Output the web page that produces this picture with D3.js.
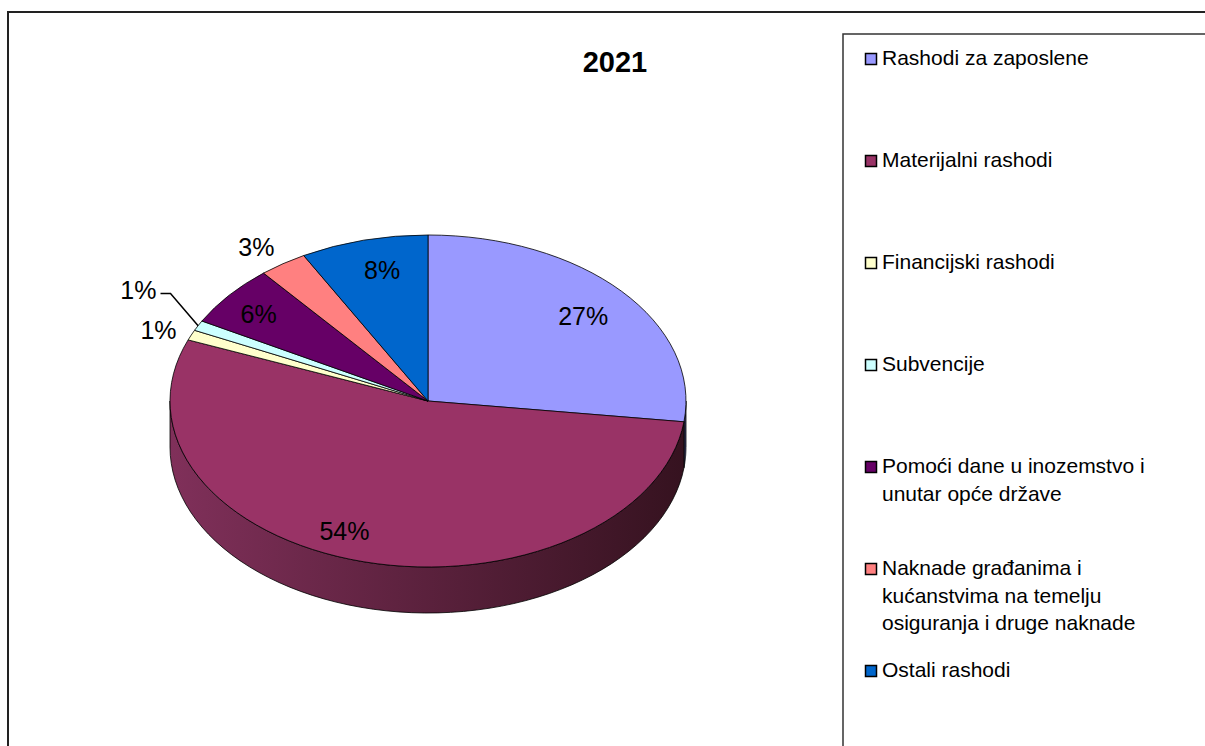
<!DOCTYPE html>
<html>
<head>
<meta charset="utf-8">
<script src="https://cdn.jsdelivr.net/npm/d3@7"></script>
<style>
  body { margin: 0; background: #fff; }
  text { font-family: "Liberation Sans", Arial, sans-serif; }
</style>
</head>
<body>
<svg width="1205" height="746"></svg>
<script>
const title = '2021'
const categories = [
  'Rashodi za zaposlene',
  'Materijalni rashodi',
  'Financijski rashodi',
  'Subvencije',
  'Pomoći dane u inozemstvo i unutar opće države',
  'Naknade građanima i kućanstvima na temelju osiguranja i druge naknade',
  'Ostali rashodi'
]
const values = [27, 54, 1, 1, 6, 3, 8]
const colors = ['#9999ff', '#993366', '#ffffcc', '#ccffff', '#660066', '#ff8080', '#0066cc']
const sideColors = [['#5a5a96', '#3c3c66'], ['#80305a', '#35121f'], ['#99997a', '#66664f'],
  ['#7a9999', '#4f6666'], ['#3d003d', '#290029'], ['#994d4d', '#663333'], ['#003d7a', '#002952']]
// label placement: radius factor, angle shift (deg), leader line
const labelPos = [
  { f: 0.79, da: 1 }, { f: 0.85, da: 8 }, { f: 1.13, da: -1 },
  { f: 1.19, da: 6, leader: true }, { f: 0.84, da: -1 }, { f: 1.14, da: -1.5 }, { f: 0.81, da: 1.7 }
]

const svg = d3.select('svg')
const cx = 428, cy = 401, rx = 258, ry = 166, depth = 46

// frames
svg.append('rect').attr('x', 8).attr('y', 12).attr('width', 1300).attr('height', 900)
  .attr('fill', 'none').attr('stroke', '#222').attr('stroke-width', 2)
svg.append('rect').attr('x', 843).attr('y', 34).attr('width', 500).attr('height', 900)
  .attr('fill', 'none').attr('stroke', '#333').attr('stroke-width', 1.5)

svg.append('text').attr('x', 615).attr('y', 72).attr('text-anchor', 'middle')
  .attr('font-size', 29).attr('font-weight', 'bold').text(title)

const pie = d3.pie().sort(null).value(d => d)
const arcs = pie(values)
const total = d3.sum(values)
const pct = d3.format('.0%')

const pt = (a, f = 1, dy = 0) => [cx + rx * f * Math.sin(a), cy - ry * f * Math.cos(a) + dy]

// side gradients
const defs = svg.append('defs')
sideColors.forEach((c, i) => {
  const g = defs.append('linearGradient').attr('id', 'side' + i)
    .attr('gradientUnits', 'userSpaceOnUse')
    .attr('x1', cx - rx).attr('x2', cx + rx).attr('y1', 0).attr('y2', 0)
  g.append('stop').attr('offset', 0).attr('stop-color', c[0])
  g.append('stop').attr('offset', 1).attr('stop-color', c[1])
})

// visible side walls (front half)
const line = d3.line()
arcs.forEach((d, i) => {
  const s = Math.max(d.startAngle, Math.PI / 2)
  const e = Math.min(d.endAngle, Math.PI * 3 / 2)
  if (e <= s) return
  const steps = d3.range(0, 61).map(k => s + (e - s) * k / 60)
  const pts = steps.map(a => pt(a)).concat(steps.slice().reverse().map(a => pt(a, 1, depth)))
  svg.append('path').attr('d', line(pts) + 'Z')
    .attr('fill', `url(#side${i})`).attr('stroke', '#000').attr('stroke-width', 0.8)
})

// top faces
const arc = d3.arc().innerRadius(0).outerRadius(rx)
svg.append('g').attr('transform', `translate(${cx},${cy}) scale(1,${ry / rx})`)
  .selectAll('path').data(arcs).join('path')
  .attr('d', arc)
  .attr('fill', (d, i) => colors[i])
  .attr('stroke', '#000').attr('stroke-width', 0.8)
  .attr('vector-effect', 'non-scaling-stroke')

// data labels
arcs.forEach((d, i) => {
  const lp = labelPos[i]
  const mid = (d.startAngle + d.endAngle) / 2
  const a = mid + lp.da * Math.PI / 180
  let [x, y] = pt(a, lp.f)
  let anchor = 'middle'
  if (lp.leader) {
    const edge = pt(mid, 1.0)
    svg.append('path').attr('d', line([edge, [x, y], [x - 10, y]]))
      .attr('fill', 'none').attr('stroke', '#000').attr('stroke-width', 1.5)
    x = x - 14
    y = y - 3
    anchor = 'end'
  }
  svg.append('text').attr('x', x).attr('y', y).attr('text-anchor', anchor)
    .attr('dominant-baseline', 'central').attr('font-size', 25)
    .text(pct(d.value / total))
})

// legend
const legend = svg.append('g')
categories.forEach((name, i) => {
  const base = 65 + 102 * i
  legend.append('rect').attr('x', 865.5).attr('y', base - 11.5).attr('width', 11).attr('height', 11)
    .attr('fill', colors[i]).attr('stroke', '#000').attr('stroke-width', 1.5)
  const t = legend.append('text').attr('x', 882).attr('y', base).attr('font-size', 21)
  const words = name.split(' ')
  let cur = [], lineNo = 0
  let ts = t.append('tspan').attr('x', 882).attr('y', base)
  words.forEach(w => {
    cur.push(w)
    ts.text(cur.join(' '))
    if (ts.node().getComputedTextLength() > 300 && cur.length > 1) {
      cur.pop()
      ts.text(cur.join(' '))
      cur = [w]
      lineNo++
      ts = t.append('tspan').attr('x', 882).attr('y', base + lineNo * 27.5).text(w)
    }
  })
})
</script>
</body>
</html>
